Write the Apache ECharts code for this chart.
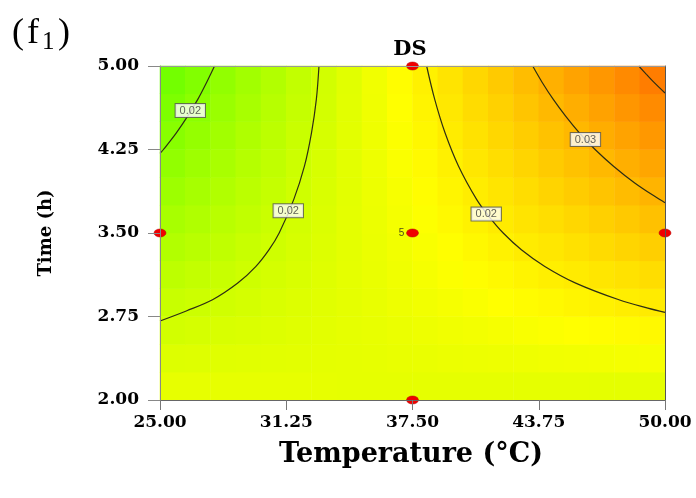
<!DOCTYPE html>
<html>
<head>
<meta charset="utf-8">
<script src="https://cdn.jsdelivr.net/npm/echarts@6/dist/echarts.min.js"></script>
<style>html,body{margin:0;padding:0;background:#fff;}#c{width:696px;height:498px;}</style>
</head>
<body>
<div id="c"></div>
<script>
// ---- data ----
const tempTicks = [25, 31.25, 37.5, 43.75, 50];
const timeTicks = [2, 2.75, 3.5, 4.25, 5];
const tempCells = [25.625, 26.875, 28.125, 29.375, 30.625, 31.875, 33.125, 34.375, 35.625, 36.875,
                   38.125, 39.375, 40.625, 41.875, 43.125, 44.375, 45.625, 46.875, 48.125, 49.375];
const timeCells = [2.125, 2.375, 2.625, 2.875, 3.125, 3.375, 3.625, 3.875, 4.125, 4.375, 4.625, 4.875];

const ds_t2125 = [0.02208, 0.02207, 0.02207, 0.02206, 0.02206, 0.02205, 0.02205, 0.02204, 0.02204, 0.02203, 0.02203, 0.02202, 0.02202, 0.02201, 0.02201, 0.02200, 0.02200, 0.02199, 0.02199, 0.02198];
const ds_t2375 = [0.02162, 0.02168, 0.02174, 0.02180, 0.02185, 0.02191, 0.02197, 0.02203, 0.02208, 0.02214, 0.02220, 0.02226, 0.02231, 0.02237, 0.02243, 0.02249, 0.02255, 0.02260, 0.02266, 0.02272];
const ds_t2625 = [0.02116, 0.02128, 0.02140, 0.02152, 0.02164, 0.02176, 0.02188, 0.02200, 0.02212, 0.02224, 0.02236, 0.02248, 0.02260, 0.02272, 0.02284, 0.02296, 0.02308, 0.02320, 0.02332, 0.02344];
const ds_t2875 = [0.02071, 0.02089, 0.02107, 0.02126, 0.02144, 0.02162, 0.02180, 0.02198, 0.02217, 0.02235, 0.02253, 0.02271, 0.02290, 0.02308, 0.02326, 0.02344, 0.02363, 0.02381, 0.02399, 0.02417];
const ds_t3125 = [0.02025, 0.02050, 0.02074, 0.02099, 0.02123, 0.02148, 0.02172, 0.02197, 0.02221, 0.02246, 0.02270, 0.02295, 0.02319, 0.02344, 0.02368, 0.02393, 0.02417, 0.02442, 0.02466, 0.02491];
const ds_t3375 = [0.01979, 0.02009, 0.02040, 0.02071, 0.02102, 0.02133, 0.02163, 0.02194, 0.02225, 0.02256, 0.02286, 0.02317, 0.02348, 0.02379, 0.02410, 0.02440, 0.02471, 0.02502, 0.02533, 0.02563];
const ds_t3625 = [0.01933, 0.01970, 0.02007, 0.02044, 0.02081, 0.02118, 0.02155, 0.02192, 0.02229, 0.02266, 0.02303, 0.02340, 0.02377, 0.02414, 0.02451, 0.02488, 0.02525, 0.02562, 0.02599, 0.02637];
const ds_t3875 = [0.01888, 0.01931, 0.01974, 0.02018, 0.02061, 0.02104, 0.02147, 0.02191, 0.02234, 0.02277, 0.02320, 0.02364, 0.02407, 0.02450, 0.02493, 0.02537, 0.02580, 0.02623, 0.02666, 0.02710];
const ds_t4125 = [0.01841, 0.01891, 0.01940, 0.01990, 0.02039, 0.02089, 0.02139, 0.02188, 0.02238, 0.02287, 0.02337, 0.02386, 0.02436, 0.02486, 0.02535, 0.02585, 0.02634, 0.02684, 0.02733, 0.02783];
const ds_t4375 = [0.01796, 0.01852, 0.01908, 0.01964, 0.02019, 0.02075, 0.02131, 0.02187, 0.02242, 0.02298, 0.02354, 0.02410, 0.02465, 0.02521, 0.02577, 0.02633, 0.02689, 0.02744, 0.02800, 0.02856];
const ds_t4625 = [0.01750, 0.01812, 0.01874, 0.01936, 0.01998, 0.02060, 0.02122, 0.02184, 0.02246, 0.02308, 0.02370, 0.02432, 0.02494, 0.02556, 0.02618, 0.02680, 0.02742, 0.02804, 0.02866, 0.02928];
const ds_t4875 = [0.01704, 0.01772, 0.01841, 0.01909, 0.01977, 0.02046, 0.02114, 0.02182, 0.02250, 0.02319, 0.02387, 0.02455, 0.02524, 0.02592, 0.02660, 0.02729, 0.02797, 0.02865, 0.02934, 0.03002];
const dsRows = [ds_t2125, ds_t2375, ds_t2625, ds_t2875, ds_t3125, ds_t3375, ds_t3625, ds_t3875, ds_t4125, ds_t4375, ds_t4625, ds_t4875];

// contour lines [Temperature, Time]
const contourA = [[27.70, 5.0], [27.30, 4.85], [26.87, 4.70], [26.37, 4.55], [25.81, 4.40], [25.17, 4.25], [25.0, 4.215]];
const contourB = [[32.87, 5.0], [32.74, 4.70], [32.50, 4.40], [32.15, 4.10], [31.62, 3.80], [30.90, 3.50], [30.40, 3.35],
                  [29.75, 3.20], [28.85, 3.05], [27.60, 2.90], [26.30, 2.80], [25.0, 2.71]];
const contourC = [[38.20, 5.0], [38.60, 4.70], [39.11, 4.40], [39.78, 4.10], [40.68, 3.80], [41.28, 3.65], [41.99, 3.50],
                  [42.89, 3.35], [44.05, 3.20], [45.58, 3.05], [47.72, 2.90], [49.15, 2.825], [50.0, 2.787]];
const contourD = [[43.45, 5.0], [43.93, 4.85], [44.47, 4.70], [45.08, 4.55], [45.76, 4.40], [46.54, 4.25], [47.45, 4.10],
                  [48.50, 3.95], [49.74, 3.80], [50.0, 3.772]];
const contourE = [[48.70, 5.0], [49.08, 4.925], [49.47, 4.85], [50.0, 4.757]];
const contourLabels = [[26.50, 4.60, '0.02'], [31.35, 3.70, '0.02'], [41.15, 3.67, '0.02'], [46.06, 4.34, '0.03']];

const designPoints = [[37.5, 5], [25, 3.5], [37.5, 3.5], [50, 3.5], [37.5, 2]];
const centerRuns = 5;

// ---- chart ----
const heatData = [];
dsRows.forEach((row, j) => row.forEach((v, i) => heatData.push([i, j, v])));

const serif = 'DejaVu Serif';
const lineColor = '#2e2e14';
function contourSeries(pts) {
  return {
    type: 'line', xAxisIndex: 1, yAxisIndex: 1, data: pts, smooth: 0.35,
    symbol: 'none', lineStyle: { color: lineColor, width: 1.2 }, z: 3, silent: true
  };
}

const chart = echarts.init(document.getElementById('c'), null, { renderer: 'canvas' });
chart.setOption({
  animation: false,
  backgroundColor: '#fff',
  grid: [
    { left: 160, top: 66, width: 505, height: 334 },
    { left: 160, top: 66, width: 505, height: 334 }
  ],
  xAxis: [
    { gridIndex: 0, type: 'category', data: tempCells, show: false },
    { gridIndex: 1, type: 'value', min: 25, max: 50, position: 'bottom', z: 10,
      axisLine: { show: true, lineStyle: { color: '#666', width: 1 } },
      axisTick: { show: true, length: 10, customValues: tempTicks, lineStyle: { color: '#777' } },
      axisLabel: { customValues: tempTicks, formatter: v => v.toFixed(2), margin: 14,
        fontFamily: serif, fontWeight: 'bold', fontSize: 17, color: '#000' },
      splitLine: { show: false } },
    { gridIndex: 1, type: 'value', min: 25, max: 50, position: 'top', z: 10,
      axisLine: { show: true, lineStyle: { color: '#999', width: 1 } },
      axisTick: { show: false }, axisLabel: { show: false }, splitLine: { show: false } }
  ],
  yAxis: [
    { gridIndex: 0, type: 'category', data: timeCells, show: false },
    { gridIndex: 1, type: 'value', min: 2, max: 5, position: 'left', z: 10,
      axisLine: { show: true, lineStyle: { color: '#888', width: 1 } },
      axisTick: { show: true, length: 12, customValues: timeTicks, lineStyle: { color: '#888' } },
      axisLabel: { customValues: timeTicks, formatter: v => v.toFixed(2), margin: 21,
        fontFamily: serif, fontWeight: 'bold', fontSize: 17, color: '#000' },
      splitLine: { show: false } },
    { gridIndex: 1, type: 'value', min: 2, max: 5, position: 'right', z: 10,
      axisLine: { show: true, lineStyle: { color: '#555', width: 1 } },
      axisTick: { show: false }, axisLabel: { show: false }, splitLine: { show: false } }
  ],
  visualMap: {
    type: 'continuous', show: false, seriesIndex: 0, min: 0.0155, max: 0.0307,
    inRange: { color: ['#4fff00', '#ffff00', '#ff7000'] }
  },
  series: [
    { type: 'heatmap', xAxisIndex: 0, yAxisIndex: 0, data: heatData, z: 1,
      itemStyle: { borderWidth: 0 }, emphasis: { disabled: true } },
    contourSeries(contourA), contourSeries(contourB), contourSeries(contourC),
    contourSeries(contourD), contourSeries(contourE),
    { type: 'scatter', xAxisIndex: 1, yAxisIndex: 1, z: 4, symbolSize: 2, silent: true,
      itemStyle: { color: 'rgba(0,0,0,0)' },
      data: contourLabels.map(d => ({ value: [d[0], d[1]], name: d[2] })),
      label: { show: true, position: 'inside', formatter: p => p.name, fontFamily: 'Liberation Sans',
        fontSize: 11, lineHeight: 12, color: '#3a3a3a', backgroundColor: '#ffffff',
        borderColor: '#555', borderWidth: 1, padding: [1, 4, 0, 4] } },
    { type: 'scatter', xAxisIndex: 1, yAxisIndex: 1, z: 6, clip: false, silent: true,
      symbol: 'circle', symbolSize: [12, 8],
      itemStyle: { color: '#f00000', borderColor: '#b00000', borderWidth: 0.5, opacity: 1 },
      data: designPoints.map(p => (p[0] === 37.5 && p[1] === 3.5)
        ? { value: p, label: { show: true, position: 'left', distance: 2, formatter: String(centerRuns),
            fontSize: 10, fontFamily: 'Liberation Sans', color: '#4d4d1a' } }
        : { value: p }) }
  ],
  graphic: [
    { type: 'text', x: 12, y: 34, style: { text: '(', fontFamily: 'Liberation Serif', fontSize: 36, fill: '#000', verticalAlign: 'middle' } },
    { type: 'text', x: 27, y: 34, style: { text: 'f', fontFamily: 'Liberation Serif', fontSize: 36, fill: '#000', verticalAlign: 'middle' } },
    { type: 'text', x: 42, y: 42, style: { text: '1', fontFamily: 'Liberation Serif', fontSize: 25, fill: '#000', verticalAlign: 'middle' } },
    { type: 'text', x: 58, y: 34, style: { text: ')', fontFamily: 'Liberation Serif', fontSize: 36, fill: '#000', verticalAlign: 'middle' } },
    { type: 'text', x: 410, y: 50, style: { text: 'DS', fontFamily: serif, fontWeight: 'bold', fontSize: 21,
        fill: '#000', align: 'center', verticalAlign: 'middle' } },
    { type: 'text', x: 411, y: 455, style: { text: 'Temperature (°C)', fontFamily: serif, fontWeight: 'bold',
        fontSize: 27, fill: '#000', align: 'center', verticalAlign: 'middle' } },
    { type: 'text', x: 46, y: 233, rotation: Math.PI / 2, style: { text: 'Time (h)', fontFamily: serif,
        fontWeight: 'bold', fontSize: 18, fill: '#000', align: 'center', verticalAlign: 'middle' } }
  ]
});
</script>
</body>
</html>
